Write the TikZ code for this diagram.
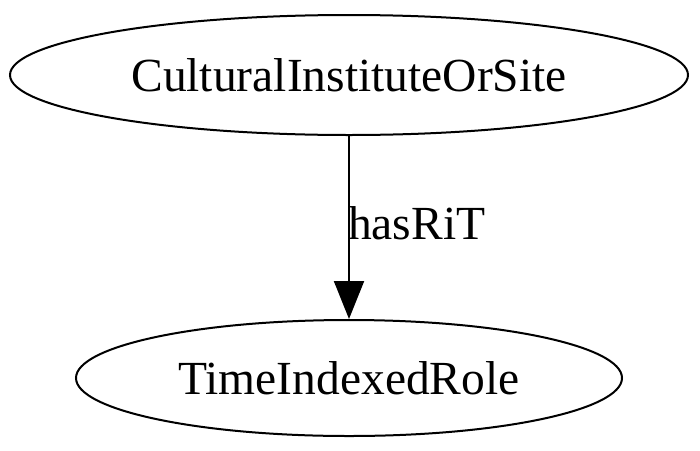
\documentclass[tikz,border=0pt]{standalone}
\usepackage{fontspec}
\setmainfont{Liberation Serif}
\usetikzlibrary{shapes.geometric,arrows.meta}
\tikzset{
  cls/.style={draw, ellipse, line width=2pt, inner sep=0pt, font=\fontsize{47.5}{56}\selectfont},
  rel/.style={line width=2pt, -{Triangle[length=38pt,width=30pt]}},
}
\begin{document}
\begin{tikzpicture}[x=1pt,y=-1pt]
\useasboundingbox (0,0) rectangle (700,450);
\node[cls, minimum width=678pt, minimum height=120pt] (site) at (349,75) {CulturalInstituteOrSite};
\node[cls, minimum width=546pt, minimum height=116pt] (role) at (349,378) {TimeIndexedRole};

\draw[rel] (site) -- (role) node[pos=0.568, anchor=base west, inner sep=0pt, xshift=-2pt, font=\fontsize{47.5}{56}\selectfont] {hasRiT};
\end{tikzpicture}
\end{document}
